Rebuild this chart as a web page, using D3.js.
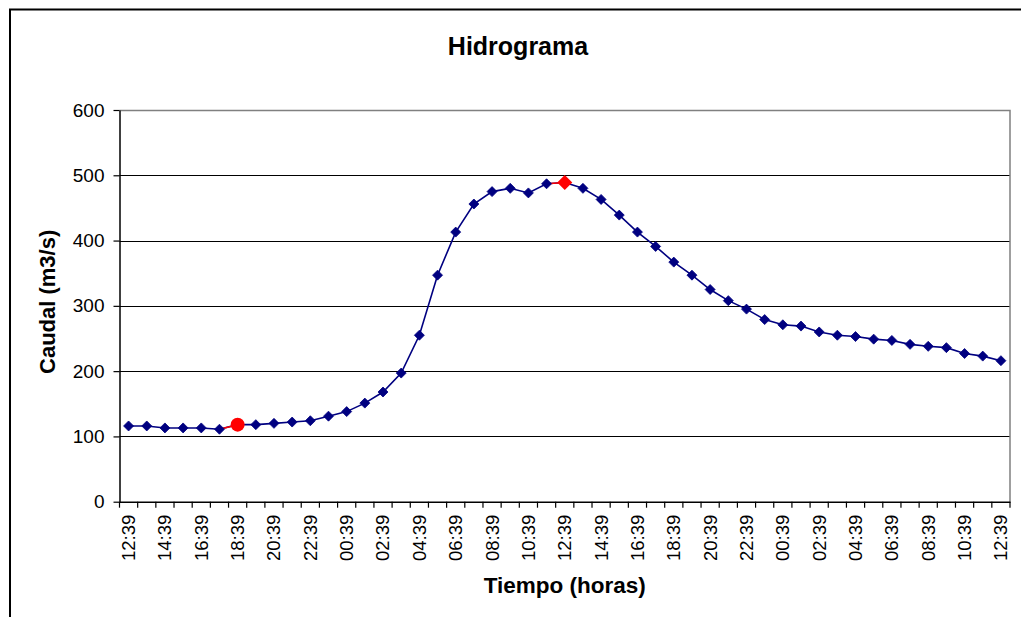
<!DOCTYPE html>
<html>
<head>
<meta charset="utf-8">
<script src="https://cdn.jsdelivr.net/npm/d3@7"></script>
<style>
  html, body { margin: 0; padding: 0; background: #fff; }
  svg { display: block; }
  text { font-family: Arial, "Liberation Sans", sans-serif; fill: #000; }
</style>
</head>
<body>
<svg id="chart" width="1021" height="617"></svg>
<script>
// ---- data ----
const categories = [
  "12:39","13:39","14:39","15:39","16:39","17:39","18:39","19:39","20:39","21:39",
  "22:39","23:39","00:39","01:39","02:39","03:39","04:39","05:39","06:39","07:39",
  "08:39","09:39","10:39","11:39","12:39","13:39","14:39","15:39","16:39","17:39",
  "18:39","19:39","20:39","21:39","22:39","23:39","00:39","01:39","02:39","03:39",
  "04:39","05:39","06:39","07:39","08:39","09:39","10:39","11:39","12:39"
];
const caudal = [
  116,116,113,113,113,111,118,118,120,122,
  124,131,138,151,168,197,255,347,413,456,
  475,480,473,487,489,480,463,439,413,391,
  367,347,325,308,295,279,271,269,260,255,
  253,249,247,241,238,236,227,223,216
];
const yTicks = [0,100,200,300,400,500,600];
const highlightCircle = [6];   // index of red circle point
const highlightDiamond = [24]; // index of red diamond point (peak)

const title = "Hidrograma";
const xTitle = "Tiempo (horas)";
const yTitle = "Caudal (m3/s)";

// ---- layout ----
const svg = d3.select("#chart");
const L = 119.5, R = 1010, T = 110, B = 501.7;
const idx = d3.range(categories.length);

const x = d3.scaleBand().domain(idx).range([L, R]).paddingInner(0).paddingOuter(0);
const y = d3.scaleLinear().domain([0, 600]).range([B, T]);
const cx = i => x(i) + x.bandwidth() / 2;

// outer chart border
svg.append("path")
  .attr("d", `M10,617 L10,9.5 L1021,9.5`)
  .attr("fill", "none").attr("stroke", "#000").attr("stroke-width", 2);

// gridlines
svg.append("g").selectAll("line")
  .data(yTicks.filter(v => v > 0 && v < 600))
  .join("line")
  .attr("x1", L).attr("x2", R)
  .attr("y1", d => Math.round(y(d)) + 0.5).attr("y2", d => Math.round(y(d)) + 0.5)
  .attr("stroke", "#000").attr("stroke-width", 1.2);

// plot border (top & right gray)
svg.append("path")
  .attr("d", `M${L},${Math.round(T)+0.5} L${R},${Math.round(T)+0.5} L${R},${B}`)
  .attr("fill", "none").attr("stroke", "#808080").attr("stroke-width", 1.5);

// y axis
const yAxis = d3.axisLeft(y).tickValues(yTicks).tickSize(6).tickSizeOuter(0).tickPadding(9);
const gy = svg.append("g").attr("transform", `translate(${L},0)`).call(yAxis);
gy.select(".domain").attr("stroke", "#000").attr("stroke-width", 1.5);
gy.selectAll(".tick line").attr("stroke", "#000").attr("stroke-width", 1.2);
gy.selectAll(".tick text").style("font-size", "19px").attr("font-family", null);

// x axis: labels every other category
const xAxis = d3.axisBottom(x).tickSize(0).tickPadding(0)
  .tickFormat(i => categories[i]);
const gx = svg.append("g").attr("transform", `translate(0,${B})`).call(xAxis);
gx.select(".domain").attr("stroke", "#000").attr("stroke-width", 1.5);
gx.selectAll(".tick").filter(i => i % 2 !== 0).remove();
gx.selectAll(".tick text")
  .style("font-size", "18.5px").attr("font-family", null)
  .attr("text-anchor", "end")
  .attr("dy", "0.35em")
  .attr("transform", "translate(0,13) rotate(-90)")
  .attr("x", 0).attr("y", 0);

// x tick marks at category boundaries
svg.append("g").selectAll("line")
  .data(idx.concat([categories.length]))
  .join("line")
  .attr("x1", i => i < categories.length ? x(i) : R)
  .attr("x2", i => i < categories.length ? x(i) : R)
  .attr("y1", B).attr("y2", B + 6)
  .attr("stroke", "#000").attr("stroke-width", 1.2);

// line
const navy = "#000080";
const line = d3.line().x(i => cx(i)).y(i => y(caudal[i]));
svg.append("path").datum(idx)
  .attr("d", line)
  .attr("fill", "none").attr("stroke", navy).attr("stroke-width", 1.6);

// red segments into highlighted points
const hl = highlightCircle.concat(highlightDiamond);
svg.append("g").selectAll("path")
  .data(hl)
  .join("path")
  .attr("d", i => line([i - 1, i]))
  .attr("fill", "none").attr("stroke", "#ff0000").attr("stroke-width", 1.6);

// markers
const diamond = s => `M0,${-s} L${s},0 L0,${s} L${-s},0 Z`;
svg.append("g").selectAll("path")
  .data(idx.filter(i => !hl.includes(i)))
  .join("path")
  .attr("transform", i => `translate(${cx(i)},${y(caudal[i])})`)
  .attr("d", diamond(5))
  .attr("fill", navy).attr("stroke", navy).attr("stroke-width", 0.8);

svg.append("g").selectAll("circle")
  .data(highlightCircle)
  .join("circle")
  .attr("cx", i => cx(i)).attr("cy", i => y(caudal[i]))
  .attr("r", 7).attr("fill", "#ff0000");

svg.append("g").selectAll("path")
  .data(highlightDiamond)
  .join("path")
  .attr("transform", i => `translate(${cx(i)},${y(caudal[i])})`)
  .attr("d", diamond(7.5))
  .attr("fill", "#ff0000");

// titles
svg.append("text").text(title)
  .attr("x", 518).attr("y", 55)
  .attr("text-anchor", "middle")
  .style("font-size", "25px").style("font-weight", "bold");

svg.append("text").text(xTitle)
  .attr("x", (L + R) / 2).attr("y", 593)
  .attr("text-anchor", "middle")
  .style("font-size", "22.5px").style("font-weight", "bold");

svg.append("text").text(yTitle)
  .attr("transform", `translate(55,${(T + B) / 2 - 4}) rotate(-90)`)
  .attr("text-anchor", "middle")
  .style("font-size", "22px").style("font-weight", "bold");
</script>
</body>
</html>
